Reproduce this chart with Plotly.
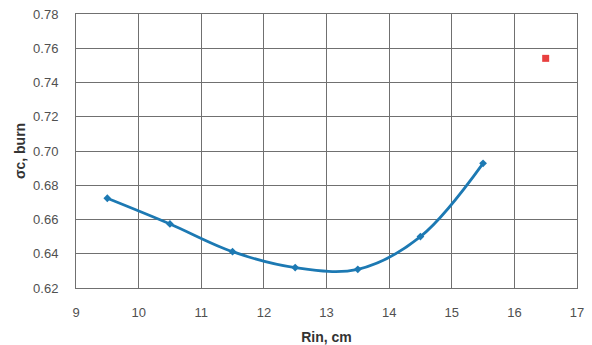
import plotly.graph_objects as go

rin = [9.5, 10.5, 11.5, 12.5, 13.5, 14.5, 15.5]
sigma = [0.6724, 0.6574, 0.6412, 0.6319, 0.6309, 0.6500, 0.6928]
red_x = [16.5]
red_y = [0.7541]

fig = go.Figure()
fig.add_trace(go.Scatter(x=rin, y=sigma, mode="lines+markers",
                         line=dict(color="#1c79b3", width=2.8, shape="spline", smoothing=1.0),
                         marker=dict(symbol="diamond", size=6, color="#1c79b3"),
                         showlegend=False, cliponaxis=False))
fig.add_trace(go.Scatter(x=red_x, y=red_y, mode="markers",
                         marker=dict(symbol="square", size=7, color="#e8403f"),
                         showlegend=False))

font = dict(family="Liberation Sans, Arial, sans-serif", size=13, color="#505050")
fig.update_layout(
    width=592, height=345,
    margin=dict(l=76, r=15, t=14, b=57, autoexpand=False),
    paper_bgcolor="white", plot_bgcolor="white",
    font=font,
    xaxis=dict(range=[9, 17], dtick=1, showgrid=True, gridcolor="#707070", gridwidth=1,
               showline=True, linecolor="#707070", mirror=True, zeroline=False, automargin=False,
               ticks="", ticklabelstandoff=12, tickfont=dict(size=13, color="#505050"),
               title=dict(text="<b>Rin, cm</b>", font=dict(size=14, color="#333"), standoff=14)),
    yaxis=dict(range=[0.62, 0.78], dtick=0.02, tickformat=".2f", showgrid=True, gridcolor="#707070",
               gridwidth=1, showline=True, linecolor="#707070", mirror=True, zeroline=False, automargin=False,
               ticks="", ticklabelstandoff=14, tickfont=dict(size=13, color="#505050"),
               title=dict(text="<b>σc, burn</b>", font=dict(size=14, color="#333"), standoff=4)),
)
fig.write_html("out.html")
